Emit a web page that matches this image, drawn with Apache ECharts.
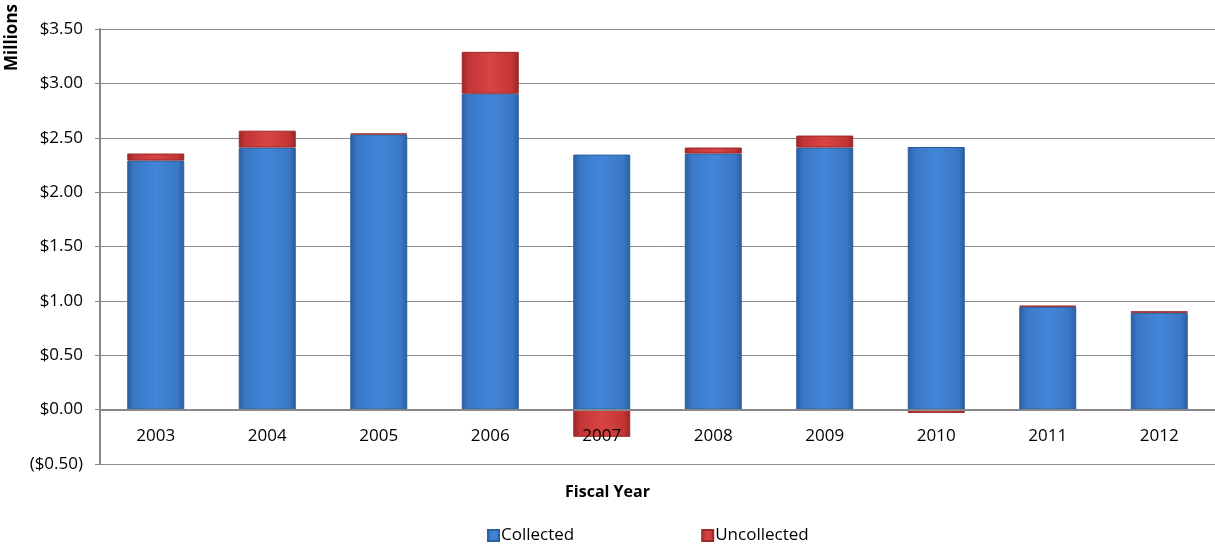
<!DOCTYPE html>
<html>
<head>
<meta charset="utf-8">
<script src="https://cdn.jsdelivr.net/npm/echarts@6/dist/echarts.min.js"></script>
<style>
  html, body { margin: 0; padding: 0; background: #fff; }
  #chart { width: 1215px; height: 544px; }
</style>
</head>
<body>
<div id="chart"></div>
<script>
var years = ['2003', '2004', '2005', '2006', '2007', '2008', '2009', '2010', '2011', '2012'];
var collected = [2.29, 2.41, 2.53, 2.905, 2.345, 2.355, 2.41, 2.415, 0.945, 0.89];
var uncollected = [0.065, 0.155, 0.01, 0.385, -0.25, 0.055, 0.11, -0.03, 0.012, 0.015];

var font = '"Open Sans", "Liberation Sans", sans-serif';

function barFill(dark, mid, light) {
    return new echarts.graphic.LinearGradient(0, 0, 1, 0, [
        { offset: 0, color: dark },
        { offset: 0.12, color: mid },
        { offset: 0.5, color: light },
        { offset: 0.88, color: mid },
        { offset: 1, color: dark }
    ]);
}

function money(v) {
    if (v < 0) return '($' + Math.abs(v).toFixed(2) + ')';
    return '$' + v.toFixed(2);
}

var myChart = echarts.init(document.getElementById('chart'));
var option = {
    animation: false,
    textStyle: { fontFamily: font },
    grid: { left: 100, right: 0, top: 29, bottom: 80, containLabel: false, outerBoundsMode: 'none' },
    legend: {
        data: ['Collected', 'Uncollected'],
        top: 522,
        left: 482,
        itemWidth: 11,
        itemHeight: 11,
        itemGap: 127,
        icon: 'rect',
        textStyle: { fontSize: 17, color: '#000', fontFamily: font, padding: [0, 0, 0, -3] }
    },
    graphic: [{
        type: 'text',
        left: 4,
        top: 4,
        rotation: Math.PI / 2,
        style: { text: 'Millions', font: 'bold 17px ' + font, fill: '#000' }
    }, {
        type: 'text',
        left: 'center',
        top: 484,
        style: { text: 'Fiscal Year', font: 'bold 16px ' + font, fill: '#000' }
    }],
    xAxis: {
        type: 'category',
        data: years,
        offset: -54.4,
        z: 10,
        axisLine: { onZero: false, lineStyle: { color: '#888', width: 2 } },
        axisTick: { length: 5, lineStyle: { color: '#888' } },
        axisLabel: { fontSize: 17, color: '#000', margin: 18 }
    },
    yAxis: {
        type: 'value',
        min: -0.5,
        max: 3.5,
        interval: 0.5,
        axisLine: { show: true, lineStyle: { color: '#888', width: 2 } },
        axisTick: { show: true, length: 5, lineStyle: { color: '#888' } },
        axisLabel: { fontSize: 17, color: '#000', margin: 17, formatter: money },
        splitLine: { lineStyle: { color: '#8c8c8c', width: 1 } }
    },
    series: [
        {
            name: 'Collected',
            type: 'bar',
            stack: 'total',
            barWidth: 57,
            data: collected,
            itemStyle: {
                color: barFill('#2a5d9e', '#3a78c6', '#4286d8'),
                borderColor: '#2b5f9f',
                borderWidth: 1
            }
        },
        {
            name: 'Uncollected',
            type: 'bar',
            stack: 'total',
            barWidth: 57,
            data: uncollected,
            itemStyle: {
                color: barFill('#992727', '#c43535', '#d84444'),
                borderColor: '#9c2a2a',
                borderWidth: 1
            }
        }
    ]
};
myChart.setOption(option);
</script>
</body>
</html>
